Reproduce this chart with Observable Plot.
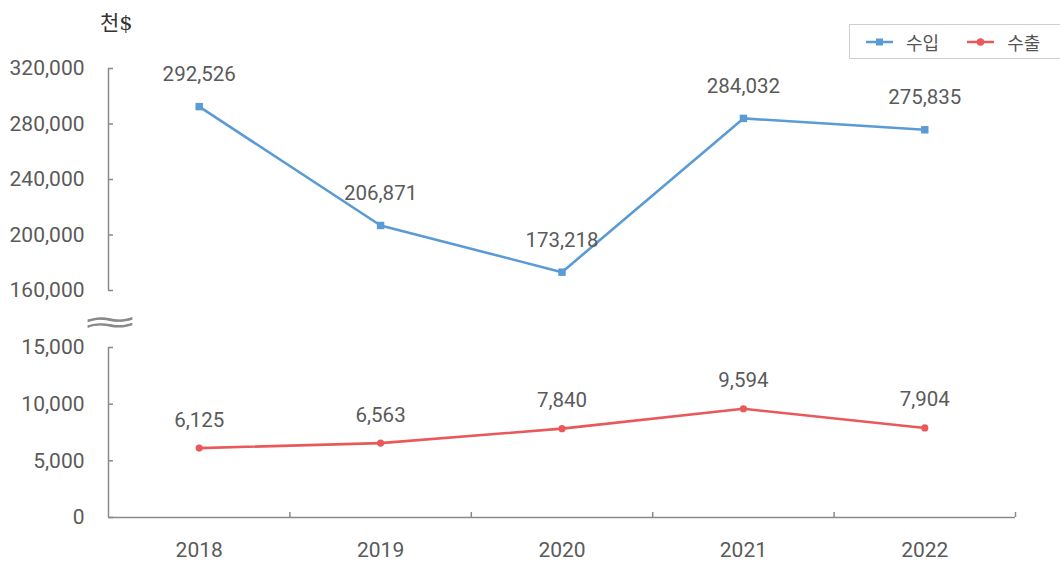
<!DOCTYPE html>
<html>
<head>
<meta charset="utf-8">
<script src="https://cdn.jsdelivr.net/npm/d3@7"></script>
<script src="https://cdn.jsdelivr.net/npm/@observablehq/plot@0.6"></script>
<style>
  html, body { margin: 0; padding: 0; background: #fff; }
  #wrap { position: relative; width: 1060px; height: 566px; font-family: Roboto, "Noto Sans", sans-serif; }
  #unit { position: absolute; left: 100px; top: 6px; font-size: 21px; color: #333; font-family: "DejaVu Serif", "Noto Sans CJK KR", serif; font-weight: normal; }
  #brk { position: absolute; left: 110px; top: 304px; font-size: 34px; color: #8a8a8a; font-family: "DejaVu Sans", sans-serif; transform: translateX(-50%) scale(2.1, 0.9); transform-origin: center; line-height: 34px; }
  #legend { position: absolute; left: 849px; top: 24px; width: 220px; height: 35px; border: 1px solid #cfcfcf; box-sizing: border-box; display: flex; align-items: center; font-size: 18px; color: #555; font-family: "Noto Sans CJK KR", sans-serif; }
  .item { display: flex; align-items: center; margin-left: 16px; }
  .item + .item { margin-left: 28px; }
  .item svg { margin-right: 13px; }
</style>
</head>
<body>
<div id="wrap">
  <div id="chart"></div>
  <div id="unit">천$</div>
  <div id="brk">≈</div>
  <div id="legend"></div>
</div>
<script>
const years = [2018, 2019, 2020, 2021, 2022];
const importValues = [292526, 206871, 173218, 284032, 275835];
const exportValues = [6125, 6563, 7840, 9594, 7904];
const seriesNames = ["수입", "수출"];
const seriesColors = ["#5b9bd5", "#e9585a"];
const upperTicks = [160000, 200000, 240000, 280000, 320000];
const lowerTicks = [0, 5000, 10000, 15000];
const boundaries = [2018.5, 2019.5, 2020.5, 2021.5, 2022.5];

const imports = years.map((year, i) => ({year, value: importValues[i]}));
const exportsData = years.map((year, i) => ({year, value: exportValues[i]}));
const fmt = d3.format(",");
const gray = "#8a8a8a";
const textColor = "#5a5a5a";
const allTicks = [...lowerTicks, ...upperTicks];

const chart = Plot.plot({
  width: 1060,
  height: 566,
  marginLeft: 108,
  marginRight: 45,
  marginTop: 60,
  marginBottom: 49,
  style: {fontFamily: "Roboto, 'Noto Sans', sans-serif", background: "white"},
  x: {type: "linear", domain: [2017.5, 2022.5], label: null},
  y: {type: "linear", domain: [0, 15000, 160000, 320000], range: [517, 347, 290, 68], label: null},
  marks: [
    // axis lines
    Plot.ruleX([2017.5], {y1: 0, y2: 15000, stroke: gray, strokeWidth: 1.5}),
    Plot.ruleX([2017.5], {y1: 160000, y2: 320000, stroke: gray, strokeWidth: 1.5}),
    Plot.ruleY([0], {stroke: gray, strokeWidth: 1.5}),
    // inward y tick marks
    Plot.axisY({ticks: allTicks, tickSize: 5, dx: 5, tickFormat: () => "", stroke: gray, strokeWidth: 1.5, label: null}),
    // y labels
    Plot.axisY({ticks: allTicks, tickSize: 0, tickPadding: 24, tickFormat: d => fmt(d), fontSize: 21, color: textColor, label: null}),
    // x boundary ticks
    Plot.axisX({ticks: boundaries, tickSize: 5, dy: -5, tickFormat: () => "", stroke: gray, strokeWidth: 1.5, label: null}),
    // x labels
    Plot.axisX({ticks: years, tickSize: 0, tickPadding: 25, tickFormat: d => String(d), fontSize: 21, color: textColor, label: null}),
    // series
    Plot.line(imports, {x: "year", y: "value", stroke: seriesColors[0], strokeWidth: 2.6}),
    Plot.dot(imports, {x: "year", y: "value", symbol: "square", r: 4.2, fill: seriesColors[0]}),
    Plot.text(imports, {x: "year", y: "value", text: d => fmt(d.value), dy: -32, fontSize: 20.5, fill: textColor}),
    Plot.line(exportsData, {x: "year", y: "value", stroke: seriesColors[1], strokeWidth: 2.6}),
    Plot.dot(exportsData, {x: "year", y: "value", r: 3.6, fill: seriesColors[1]}),
    Plot.text(exportsData, {x: "year", y: "value", text: d => fmt(d.value), dy: -28, fontSize: 20.5, fill: textColor})
  ]
});
document.getElementById("chart").appendChild(chart);

const legend = document.getElementById("legend");
seriesNames.forEach((name, i) => {
  const item = document.createElement("div");
  item.className = "item";
  const marker = i === 0
    ? `<rect x="10" y="3.5" width="7" height="7" fill="${seriesColors[i]}"/>`
    : `<circle cx="13.5" cy="7" r="3.8" fill="${seriesColors[i]}"/>`;
  item.innerHTML = `<svg width="27" height="14"><line x1="0" x2="27" y1="7" y2="7" stroke="${seriesColors[i]}" stroke-width="2.5"/>${marker}</svg><span>${name}</span>`;
  legend.appendChild(item);
});
</script>
</body>
</html>
